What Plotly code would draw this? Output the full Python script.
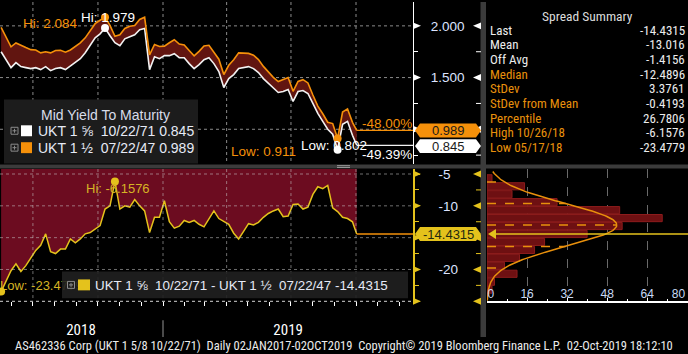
import numpy as np
import pandas as pd
import plotly.graph_objects as go

W, H = 688, 354

# ---------------- data ----------------
dates = list(pd.date_range("2018-05-17", periods=72, freq="7D").strftime("%Y-%m-%d")) + ["2019-10-02"]

ukt71 = [1.750, 1.673, 1.596, 1.644, 1.606, 1.596, 1.587, 1.596, 1.577, 1.606,
         1.567, 1.587, 1.596, 1.577, 1.615, 1.644, 1.683, 1.740, 1.817, 1.885,
         1.923, 1.979, 1.904, 1.837, 1.808, 1.875, 1.894, 1.913, 1.962, 1.975,
         1.577, 1.702, 1.683, 1.712, 1.712, 1.731, 1.692, 1.692, 1.635, 1.587,
         1.625, 1.673, 1.692, 1.635, 1.558, 1.404, 1.490, 1.529, 1.587, 1.596,
         1.606, 1.587, 1.548, 1.490, 1.442, 1.394, 1.356, 1.365, 1.385, 1.269,
         1.365, 1.375, 1.346, 1.250, 1.154, 1.077, 1.000, 0.952, 0.802, 1.048,
         1.077, 0.942, 0.845]

ukt47 = [1.985, 1.890, 1.798, 1.835, 1.809, 1.790, 1.770, 1.766, 1.739, 1.750,
         1.739, 1.762, 1.764, 1.745, 1.767, 1.802, 1.835, 1.884, 1.959, 2.021,
         2.054, 2.084, 2.004, 1.899, 1.913, 1.975, 1.996, 2.003, 2.062, 2.083,
         1.719, 1.820, 1.801, 1.804, 1.837, 1.866, 1.824, 1.815, 1.761, 1.710,
         1.754, 1.806, 1.812, 1.743, 1.678, 1.529, 1.619, 1.672, 1.739, 1.736,
         1.734, 1.717, 1.674, 1.608, 1.554, 1.502, 1.461, 1.482, 1.501, 1.367,
         1.462, 1.480, 1.448, 1.332, 1.224, 1.150, 1.068, 1.055, 0.911, 1.166,
         1.197, 1.067, 0.989]

spread = [-23.4779, -21.7, -20.2, -19.1, -20.3, -19.4, -18.3, -17.0, -16.2, -14.4,
          -17.2, -17.5, -16.8, -16.8, -15.2, -15.8, -15.2, -14.4, -14.2, -13.6,
          -13.1, -10.5, -10.0, -6.1576, -10.5, -10.0, -10.2, -9.0, -10.0, -10.8,
          -14.2, -11.8, -11.8, -9.2, -12.5, -13.5, -13.2, -12.3, -12.6, -12.3,
          -12.9, -13.3, -12.0, -10.8, -12.0, -12.5, -12.9, -14.3, -15.2, -14.0,
          -12.8, -13.0, -12.6, -11.8, -11.2, -10.8, -10.5, -11.7, -11.6, -9.8,
          -9.7, -10.5, -10.2, -8.2, -7.0, -7.3, -6.8, -10.3, -10.9, -11.8,
          -12.0, -12.5, -14.4315]

pct_change_47 = "-48.00%"
pct_change_71 = "-49.39%"

summary_labels = ["Last", "Mean", "Off Avg", "Median", "StDev", "StDev from Mean",
                  "Percentile", "High 10/26/18", "Low 05/17/18"]
summary_values = ["-14.4315", "-13.016", "-1.4156", "-12.4896", "3.3761", "-0.4193",
                  "26.7806", "-6.1576", "-23.4779"]
spread_mean = -13.016
spread_sd = 3.3761

hist_centers = [-23.175, -21.925, -20.675, -19.425, -18.175, -16.925, -15.675, -14.425,
                -13.175, -11.925, -10.675, -9.425, -8.175, -6.925, -5.675]
hist_counts = [2, 3, 12, 7, 13, 19, 23, 40, 54, 70, 53, 28, 10, 15, 2]
hist_bin_width = 1.25
hist_ticks = [0, 16, 32, 48, 64, 80]
hist_ticklabels = ["0", "16", "32", "48", "64", "80"]
hist_label_pos = [1.5, 16, 32, 48, 64, 76.5]

quarter_lines = ["2018-07-01", "2018-10-01", "2019-01-01", "2019-04-01", "2019-07-01", "2019-10-01"]
year_label_dates = ["2018-09-07", "2019-06-27"]
year_labels = ["2018", "2019"]

# ---------------- geometry / style ----------------
FONT = "Liberation Sans, Arial, sans-serif"
NARROW = "Liberation Sans Narrow, Arial Narrow, Roboto Condensed, DejaVu Sans Condensed, sans-serif"
ORANGE = "#f5900a"
WHITE = "#f2f2f2"
YELLOW = "#e4c21c"
BAND_TOP = "#611510"
BAND_BOT = "#6c0c20"
TICKTXT = "#dde4ff"

PLOT_R = 413
DPP = 273 / 193.0
X0 = pd.Timestamp("2019-01-01") - pd.Timedelta(days=163 * DPP)
X1 = pd.Timestamp("2019-01-01") + pd.Timedelta(days=(PLOT_R - 163) * DPP)
X0s, X1s = X0.strftime("%Y-%m-%d %H:%M"), X1.strftime("%Y-%m-%d %H:%M")

TOP_PX = (0, 163)
BOT_PX = (168, 301)
TOP_Y = [0.6635, 2.2308]
BOT_Y = [-25.0, -4.22]


def fx(px):
    return px / W


def fy(py):
    return 1 - py / H


def date_px(d):
    return (pd.Timestamp(d) - X0) / (X1 - X0) * PLOT_R


def top_py(v):
    return TOP_PX[0] + (TOP_Y[1] - v) / (TOP_Y[1] - TOP_Y[0]) * (TOP_PX[1] - TOP_PX[0])


def bot_py(v):
    return BOT_PX[0] + (BOT_Y[1] - v) / (BOT_Y[1] - BOT_Y[0]) * (BOT_PX[1] - BOT_PX[0])


shapes = []
ann = []


def rect(x0, y0, x1, y1, fill, layer="above", line=None):
    shapes.append(dict(type="rect", xref="paper", yref="paper", x0=fx(x0), x1=fx(x1),
                       y0=fy(y1), y1=fy(y0), fillcolor=fill,
                       line=line or dict(width=0), layer=layer))


def seg(x0, y0, x1, y1, color, width=1, dash="solid", layer="above"):
    shapes.append(dict(type="line", xref="paper", yref="paper", x0=fx(x0), x1=fx(x1),
                       y0=fy(y0), y1=fy(y1), line=dict(color=color, width=width, dash=dash),
                       layer=layer))


def poly(points, fill):
    path = "M " + " L ".join(f"{fx(x):.5f},{fy(y):.5f}" for x, y in points) + " Z"
    shapes.append(dict(type="path", xref="paper", yref="paper", path=path,
                       fillcolor=fill, line=dict(width=0), layer="above"))


def icon(cx, cy):
    # small "expand" box icon
    rect(cx - 3.5, cy - 3.5, cx + 3.5, cy + 3.5, "rgba(0,0,0,0)",
         line=dict(color="#8a8a8a", width=1))
    seg(cx - 2, cy, cx + 2, cy, "#8a8a8a", 1)
    seg(cx, cy - 2, cx, cy + 2, "#8a8a8a", 1)


def text(x, y, s, size, color, family=FONT, xanchor="left", yanchor="middle"):
    ann.append(dict(xref="paper", yref="paper", x=fx(x), y=fy(y), text=s, showarrow=False,
                    font=dict(size=size, color=color, family=family),
                    xanchor=xanchor, yanchor=yanchor, borderpad=0))


def value_box(yc, fill, label, txtcolor):
    poly([(415, yc), (420, yc - 7), (476, yc - 7), (481, yc), (476, yc + 7), (420, yc + 7)], fill)
    text(448, yc + 0.5, label, 13, txtcolor, xanchor="center")


# ---------------- traces ----------------
fig = go.Figure()
n = len(dates)

# top panel
fig.add_trace(go.Scatter(x=dates, y=ukt71, mode="lines", line=dict(color=WHITE, width=1.6),
                         xaxis="x", yaxis="y", hoverinfo="skip"))
fig.add_trace(go.Scatter(x=dates, y=ukt47, mode="lines", fill="tonexty", fillcolor=BAND_TOP,
                         line=dict(color=ORANGE, width=1.6), xaxis="x", yaxis="y", hoverinfo="skip"))
fig.add_trace(go.Scatter(x=[dates[-1], X1s], y=[ukt47[-1]] * 2, mode="lines",
                         line=dict(color=ORANGE, width=1.2), xaxis="x", yaxis="y"))
fig.add_trace(go.Scatter(x=[dates[-1], X1s], y=[ukt71[-1]] * 2, mode="lines",
                         line=dict(color=WHITE, width=1.2), xaxis="x", yaxis="y"))

i47h, i47l = int(np.argmax(ukt47)), int(np.argmin(ukt47))
i71h, i71l = int(np.argmax(ukt71)), int(np.argmin(ukt71))
fig.add_trace(go.Scatter(x=[dates[i47h], dates[i47l]], y=[ukt47[i47h], ukt47[i47l]], mode="markers",
                         marker=dict(color=ORANGE, size=8), xaxis="x", yaxis="y"))
fig.add_trace(go.Scatter(x=[dates[i71h], dates[i71l]], y=[ukt71[i71h], ukt71[i71l]], mode="markers",
                         marker=dict(color="white", size=8), xaxis="x", yaxis="y"))

# bottom panel
fig.add_trace(go.Scatter(x=dates, y=[BOT_Y[1]] * n, mode="lines", line=dict(width=0),
                         xaxis="x2", yaxis="y2", hoverinfo="skip"))
fig.add_trace(go.Scatter(x=dates, y=spread, mode="lines", fill="tonexty", fillcolor=BAND_BOT,
                         line=dict(color=YELLOW, width=1.5), xaxis="x2", yaxis="y2"))
fig.add_trace(go.Scatter(x=[dates[-1], X1s], y=[spread[-1]] * 2, mode="lines",
                         line=dict(color=ORANGE, width=1.5), xaxis="x2", yaxis="y2"))
ish, isl = int(np.argmax(spread)), int(np.argmin(spread))
upp_bot = (BOT_Y[1] - BOT_Y[0]) / (BOT_PX[1] - BOT_PX[0])
fig.add_trace(go.Scatter(x=[X0s], y=[spread[isl] + 4.6 * upp_bot], mode="text",
                         text=[f"Low: {spread[isl]:.4f}"], textposition="middle right",
                         textfont=dict(size=13, color="#d6b424", family=FONT),
                         xaxis="x2", yaxis="y2", cliponaxis=False))
fig.add_trace(go.Scatter(x=[dates[ish], dates[isl]], y=[spread[ish], spread[isl]], mode="markers",
                         marker=dict(color=YELLOW, size=8), xaxis="x2", yaxis="y2", cliponaxis=False))

# histogram panel
fig.add_trace(go.Bar(y=hist_centers, x=hist_counts, orientation="h", width=hist_bin_width * 0.9,
                     marker=dict(color="#6e1012", line=dict(color="#8c1c1c", width=1)),
                     xaxis="x3", yaxis="y3"))
peak = sum(hist_counts) * hist_bin_width / (spread_sd * np.sqrt(2 * np.pi))
yy = np.linspace(-24.9, -4.6, 200)
xx = peak * np.exp(-0.5 * ((yy - spread_mean) / spread_sd) ** 2)
fig.add_trace(go.Scatter(x=xx, y=yy, mode="lines", line=dict(color="#e8900c", width=1.5),
                         xaxis="x3", yaxis="y3"))
for k in (-2, -1, 0, 1, 2):
    lv = spread_mean + k * spread_sd
    fig.add_trace(go.Scatter(x=[0, peak * np.exp(-0.5 * k * k)], y=[lv, lv], mode="lines",
                             line=dict(color="#e8900c", width=1.5, dash="dash"),
                             xaxis="x3", yaxis="y3"))
# carrier for the histogram count labels axis
fig.add_trace(go.Scatter(x=[0], y=[-40], mode="markers", marker=dict(opacity=0),
                         xaxis="x4", yaxis="y3", hoverinfo="skip"))

# ---------------- decorations ----------------
for v in (2.0, 1.5, 1.0):
    seg(0, top_py(v), PLOT_R, top_py(v), "#8a8a8a", 1, "dot", layer="below")
for d in quarter_lines:
    seg(date_px(d), TOP_PX[0], date_px(d), TOP_PX[1], "#8a8a8a", 1, "dot", layer="below")
for v in (-5, -10, -15, -20):
    seg(0, bot_py(v), PLOT_R, bot_py(v), "rgba(200,200,200,0.55)", 1, "dot")
seg(0, bot_py(-25), PLOT_R, bot_py(-25), "rgba(235,235,235,0.9)", 1, "dot")
for d in quarter_lines:
    seg(date_px(d), BOT_PX[0], date_px(d), BOT_PX[1], "rgba(200,200,200,0.55)", 1, "dot")

# separators
rect(0, 163.5, W, 167.5, "#3b3b3b")
seg(337, 164.6, 350, 164.6, "#9a9a9a", 1)
seg(337, 166.4, 350, 166.4, "#9a9a9a", 1)
rect(480.5, 0, 486, 337, "#3b3b3b")
seg(date_px("2019-01-01"), 320, date_px("2019-01-01"), 337, "#4a4a4a", 2)

# axis triangles and right-side ticks
for v in (2.0, 1.5, 1.0):
    y = top_py(v)
    poly([(413, y - 3.5), (421, y), (413, y + 3.5)], "white")
    poly([(481, y - 3.5), (473, y), (481, y + 3.5)], "white")
for v in (1.75, 1.25, 0.75):
    y = top_py(v)
    seg(476, y, 481, y, "white", 1)
for v in (-5, -10, -15, -20, -25):
    y = bot_py(v)
    poly([(413, y - 3.5), (421, y), (413, y + 3.5)], YELLOW)
    poly([(481, y - 3.5), (473, y), (481, y + 3.5)], YELLOW)
for v in (-7.5, -12.5, -17.5, -22.5):
    y = bot_py(v)
    seg(476, y, 481, y, YELLOW, 1)

# last value boxes
value_box(top_py(ukt47[-1]), ORANGE, f"{ukt47[-1]:.3f}", "#1a1a1a")
value_box(top_py(ukt71[-1]) + 0.8, "white", f"{ukt71[-1]:.3f}", "#1a1a1a")
value_box(bot_py(spread[-1]), YELLOW, f"{spread[-1]:.4f}", "#1f2a10")

# histogram last value line
yl = bot_py(spread[-1])
seg(490, yl, W, yl, YELLOW, 1.5)
poly([(488, yl), (496, yl - 5), (496, yl + 5)], YELLOW)

# legend boxes
rect(4, 98, 198, 162.5, "#1c1c1c")
text(105, 113.5, "Mid Yield To Maturity", 14, "#d8dcea", xanchor="center")
icon(14.5, 129.5)
icon(14.5, 146.5)
rect(21, 124, 32, 135, "white")
rect(21, 141, 32, 152, ORANGE)
text(37, 129.5, f"UKT 1 ⅝  10/22/71 {ukt71[-1]:.3f}", 14, "#e6eaf6")
text(37, 146.5, f"UKT 1 ½  07/22/47 {ukt47[-1]:.3f}", 14, "#e6eaf6")

rect(62, 271, 408, 298, "rgba(32,32,32,0.9)")
icon(71, 284.5)
rect(78, 279, 90, 290, YELLOW)
text(94, 285, f"UKT 1 ⅝  10/22/71 - UKT 1 ½  07/22/47 {spread[-1]:.4f}", 13.4, "#e6eaf6")

# hi / low labels top panel
px47h, py47h = date_px(dates[i47h]), top_py(ukt47[i47h])
px71h, py71h = date_px(dates[i71h]), top_py(ukt71[i71h])
px47l, py47l = date_px(dates[i47l]), top_py(ukt47[i47l])
px71l, py71l = date_px(dates[i71l]), top_py(ukt71[i71l])
text(px47h - 26, py47h + 6, f"Hi: {ukt47[i47h]:.3f}", 13.5, ORANGE, xanchor="right")
text(px71h - 25, py71h - 11, f"Hi: {ukt71[i71h]:.3f}", 13.5, "white")
text(px47l - 41, py47l + 12.7, f"Low: {ukt47[i47l]:.3f}", 13.5, ORANGE, xanchor="right")
text(px71l - 38, py71l - 4.5, f"Low: {ukt71[i71l]:.3f}", 13.5, "white")
text(PLOT_R, top_py(ukt47[-1]) - 6.5, pct_change_47, 13.5, ORANGE, xanchor="right")
text(PLOT_R, top_py(ukt71[-1]) + 9, pct_change_71, 13.5, "white", xanchor="right")

# hi label bottom panel
text(date_px(dates[ish]) + 3, bot_py(spread[ish]) + 7.3, f"Hi: {spread[ish]:.4f}", 13, "#d6b424",
     xanchor="center")

# summary table
text(587, 14.5, "Spread Summary", 13.5, "#dcdcdc", family=NARROW, xanchor="center")
for k, (lab, val) in enumerate(zip(summary_labels, summary_values)):
    y = 28.5 + k * 14.72
    col = "#ececec" if k < 3 else "#e8900c"
    text(489, y, lab, 13, col, family=NARROW)
    text(686, y, val, 13, "#ececec", family=NARROW, xanchor="right")

# footer
text(344, 345.5, "AS462336 Corp (UKT 1 5/8 10/22/71)  Daily 02JAN2017-02OCT2019  "
     "Copyright© 2019 Bloomberg Finance L.P.  02-Oct-2019 18:12:10", 12.5, "#ececec",
     family=NARROW, xanchor="center")

# ---------------- layout ----------------
fig.update_layout(
    width=W, height=H, margin=dict(l=0, r=0, t=0, b=0),
    paper_bgcolor="black", plot_bgcolor="rgba(0,0,0,0)",
    showlegend=False, shapes=shapes, annotations=ann,
    xaxis=dict(domain=[0, fx(PLOT_R)], range=[X0s, X1s], anchor="y", showgrid=False,
               showticklabels=False, ticks="", zeroline=False, showline=False),
    yaxis=dict(domain=[fy(TOP_PX[1]), fy(TOP_PX[0])], range=TOP_Y, anchor="x", side="right",
               showgrid=False, zeroline=False, showline=True, linecolor="white", linewidth=1,
               ticks="outside", ticklen=5, tickcolor="white",
               tickvals=[1.0, 1.5, 2.0], ticktext=["", "1.500", "2.000"],
               minor=dict(ticks="outside", tickvals=[0.75, 1.25, 1.75], ticklen=4, tickcolor="white"),
               tickfont=dict(size=13.5, color=TICKTXT, family=FONT), ticklabelstandoff=9),
    xaxis2=dict(domain=[0, fx(PLOT_R)], range=[X0s, X1s], anchor="y2", showgrid=False,
                zeroline=False, showline=False, ticks="", tickvals=year_label_dates,
                ticktext=year_labels, tickfont=dict(size=15, color="white", family=NARROW),
                ticklabelstandoff=18,
                minor=dict(ticks="outside", tickmode="linear", tick0="2018-01-01", dtick="M1",
                           ticklen=4, tickcolor="white", showgrid=False)),
    yaxis2=dict(domain=[fy(BOT_PX[1]), fy(BOT_PX[0])], range=BOT_Y, anchor="x2", side="right",
                showgrid=False, zeroline=False, showline=True, linecolor=YELLOW, linewidth=1.5,
                ticks="outside", ticklen=5, tickcolor=YELLOW,
                tickvals=[-25, -20, -15, -10, -5], ticktext=["", "-20", "", "-10", "-5"],
                minor=dict(ticks="outside", tickvals=[-22.5, -17.5, -12.5, -7.5], ticklen=4,
                           tickcolor=YELLOW),
                tickfont=dict(size=13.5, color=TICKTXT, family=FONT), ticklabelstandoff=16),
    xaxis3=dict(domain=[fx(487), 1], range=[0, 80.3], anchor="y3", showgrid=True,
                gridcolor="#6a6a6a", griddash="dash", gridwidth=1, zeroline=False,
                showline=True, linecolor="white", linewidth=1.5, ticks="inside", ticklen=4,
                tickcolor="white", tickvals=hist_ticks, showticklabels=False,
                minor=dict(ticks="inside", tickvals=[8, 24, 40, 56, 72], ticklen=3, tickcolor="white")),
    xaxis4=dict(domain=[fx(487), 1], range=[0, 80.3], overlaying="x3", anchor="free",
                position=fy(285), showgrid=False, zeroline=False, showline=False, ticks="",
                tickvals=hist_label_pos, ticktext=hist_ticklabels,
                tickfont=dict(size=12, color="#c8daf6", family=FONT)),
    yaxis3=dict(domain=[fy(BOT_PX[1]), fy(BOT_PX[0])], range=BOT_Y, anchor="x3",
                visible=False, showgrid=False, zeroline=False),
)

fig.write_html("out.html")
